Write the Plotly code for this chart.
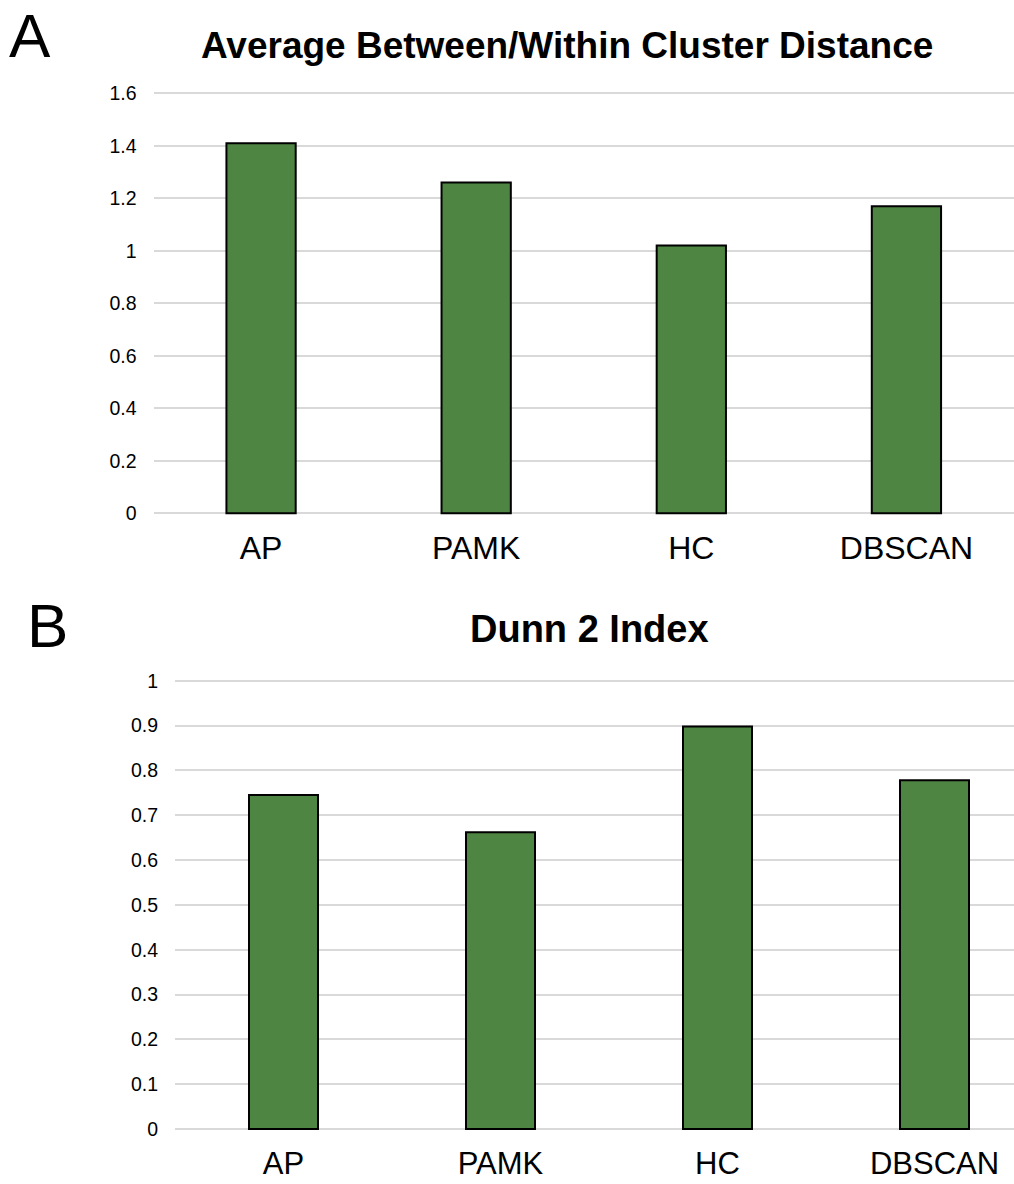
import plotly.graph_objects as go

# ---- data ----
categories = ["AP", "PAMK", "HC", "DBSCAN"]
avg_between_within = [1.41, 1.26, 1.02, 1.17]
dunn2_index = [0.745, 0.662, 0.898, 0.778]
top_ticks = [0, 0.2, 0.4, 0.6, 0.8, 1, 1.2, 1.4, 1.6]
top_tick_text = ["0", "0.2", "0.4", "0.6", "0.8", "1", "1.2", "1.4", "1.6"]
bottom_ticks = [0, 0.1, 0.2, 0.3, 0.4, 0.5, 0.6, 0.7, 0.8, 0.9, 1]
bottom_tick_text = ["0", "0.1", "0.2", "0.3", "0.4", "0.5", "0.6", "0.7", "0.8", "0.9", "1"]
title_top = "Average Between/Within Cluster Distance"
title_bottom = "Dunn 2 Index"

W, H = 1014, 1184
FONT = "Liberation Sans, Arial, sans-serif"
GREEN = "#4e8542"
GRID = "#d9d9d9"


def px(x):
    return x / W


def py(y):
    return 1 - y / H


def ydomain(y_zero_px, y_top_px, top_val, r0, r1):
    """Pixel-based domain so that 0 sits at y_zero_px and top_val at y_top_px."""
    s = (y_zero_px - y_top_px) / top_val
    return [py(y_zero_px - r0 * s), py(y_zero_px - r1 * s)]


top_range = [-0.006, 1.606]
bot_range = [-0.004, 1.004]

fig = go.Figure()
fig.add_trace(go.Bar(x=categories, y=avg_between_within, xaxis="x", yaxis="y",
                     marker=dict(color=GREEN, line=dict(color="black", width=2)),
                     width=0.322, showlegend=False))
fig.add_trace(go.Bar(x=categories, y=dunn2_index, xaxis="x2", yaxis="y2",
                     marker=dict(color=GREEN, line=dict(color="black", width=2)),
                     width=0.318, showlegend=False))

xcommon = dict(type="category", showgrid=False, zeroline=False, showline=False,
               automargin=False, ticks="")
ycommon = dict(showgrid=True, gridcolor=GRID, gridwidth=1.5, zeroline=False,
               showline=False, automargin=False, ticks="",
               tickfont=dict(family=FONT, size=19.5, color="black"),
               ticklabelstandoff=16)

fig.update_layout(
    width=W, height=H,
    margin=dict(l=0, r=0, t=0, b=0, autoexpand=False),
    paper_bgcolor="white", plot_bgcolor="white",
    xaxis=dict(domain=[px(153.5), 1], range=[-0.5, 3.5], anchor="y",
               ticklabelstandoff=11, tickfont=dict(family=FONT, size=32, color="black"),
               **xcommon),
    yaxis=dict(domain=ydomain(513.3, 93.3, 1.6, *top_range), range=top_range, anchor="x",
               tickvals=top_ticks, ticktext=top_tick_text, **ycommon),
    xaxis2=dict(domain=[px(175), 1], range=[-0.5, -0.5 + (W - 175) / 217.0], anchor="y2",
                ticklabelstandoff=11, tickfont=dict(family=FONT, size=31, color="black"),
                **xcommon),
    yaxis2=dict(domain=ydomain(1129, 680.7, 1.0, *bot_range), range=bot_range, anchor="x2",
                tickvals=bottom_ticks, ticktext=bottom_tick_text, **ycommon),
    annotations=[
        dict(text="A", x=px(30), y=py(36), xref="paper", yref="paper",
             xanchor="center", yanchor="middle", showarrow=False,
             font=dict(family=FONT, size=62, color="black")),
        dict(text="B", x=px(47), y=py(625), xref="paper", yref="paper",
             xanchor="center", yanchor="middle", showarrow=False,
             font=dict(family=FONT, size=62, color="black")),
        dict(text="<b>%s</b>" % title_top, x=px(566.5), y=py(45), xref="paper", yref="paper",
             xanchor="center", yanchor="middle", showarrow=False,
             font=dict(family=FONT, size=37, color="black")),
        dict(text="<b>%s</b>" % title_bottom, x=px(589), y=py(629), xref="paper", yref="paper",
             xanchor="center", yanchor="middle", showarrow=False,
             font=dict(family=FONT, size=38, color="black")),
    ],
)

fig.write_html(
    "out.html",
    config={"displayModeBar": False},
    post_script="document.body.style.margin='0';document.body.style.overflow='hidden';",
)
